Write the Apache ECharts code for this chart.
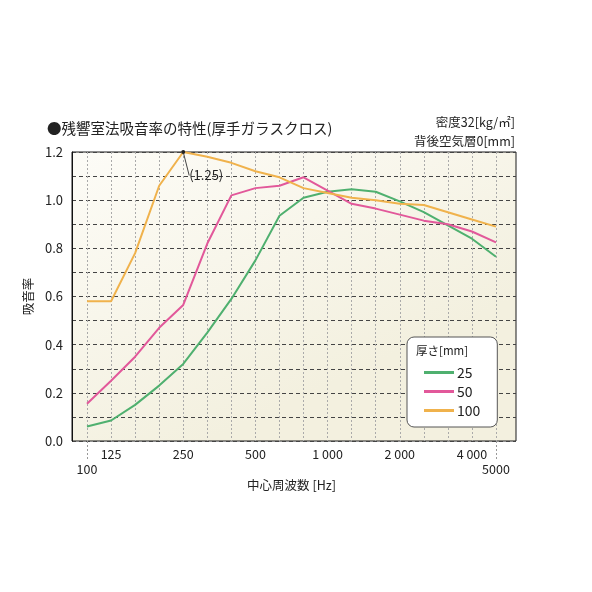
<!DOCTYPE html>
<html>
<head>
<meta charset="utf-8">
<script src="https://cdn.jsdelivr.net/npm/echarts@6/dist/echarts.min.js"></script>
<style>
  html, body { margin: 0; padding: 0; background: #fff; }
  #chart { width: 592px; height: 592px; }
</style>
</head>
<body>
<div id="chart"></div>
<script>
// 1/3オクターブ帯域 中心周波数
const freqs = ['100', '125', '160', '200', '250', '315', '400', '500', '630', '800', '1000', '1250', '1600', '2000', '2500', '3150', '4000', '5000'];
const tickLabels = ['100', '125', '', '', '250', '', '', '500', '', '', '1 000', '', '', '2 000', '', '', '4 000', '5000'];
// 吸音率 (厚さ別)
const abs25 = [0.06, 0.085, 0.15, 0.23, 0.32, 0.45, 0.59, 0.75, 0.935, 1.01, 1.035, 1.045, 1.035, 0.995, 0.95, 0.895, 0.84, 0.765];
const abs50 = [0.155, 0.25, 0.35, 0.47, 0.565, 0.82, 1.02, 1.05, 1.06, 1.095, 1.04, 0.985, 0.965, 0.94, 0.915, 0.9, 0.87, 0.825];
const abs100 = [0.58, 0.58, 0.78, 1.06, 1.2, 1.18, 1.155, 1.12, 1.095, 1.05, 1.03, 1.01, 1.0, 0.985, 0.98, 0.95, 0.92, 0.89];
const seriesNames = ['25', '50', '100'];
const peakIndex = 4;
const peakNote = '(1.25)';

const FONT = '"Noto Sans CJK JP", "Noto Sans", sans-serif';
const colors = ['#4fb06f', '#e2589a', '#f0b24c'];

let chartDom = document.getElementById('chart');
let myChart = echarts.init(chartDom, null, {renderer: 'canvas'});

let lineSeries = (name, values, color, withPeak) => ({
  name: name,
  type: 'line',
  xAxisIndex: 0,
  yAxisIndex: 0,
  showSymbol: withPeak,
  symbol: 'circle',
  symbolSize: (v, p) => (withPeak && p.dataIndex === peakIndex) ? 4 : 0,
  z: 5,
  animation: false,
  lineStyle: {color: color, width: 2},
  itemStyle: {color: color},
  labelLayout: (p) => p.dataIndex === peakIndex ? {dx: 23, dy: 10} : {},
  data: values.map((v, i) => {
    if (withPeak && i === peakIndex) {
      return {
        value: v,
        itemStyle: {color: '#222'},
        label: {
          show: true,
          formatter: peakNote,
          color: '#222',
          fontSize: 13,
          fontFamily: FONT,
          position: 'bottom'
        },
        labelLine: {show: true, lineStyle: {color: '#444', width: 1}}
      };
    }
    return v;
  })
});

let option = {
  backgroundColor: '#fff',
  textStyle: {fontFamily: FONT},
  animation: false,
  title: [
    {
      text: '●残響室法吸音率の特性(厚手ガラスクロス)',
      left: 47, top: 121, padding: 0,
      textStyle: {fontSize: 14.5, fontWeight: 'normal', color: '#222', fontFamily: FONT}
    },
    {
      text: '密度32[kg/㎡]',
      right: 77, top: 116, padding: 0,
      textStyle: {fontSize: 12.5, fontWeight: 'normal', color: '#222', fontFamily: FONT}
    },
    {
      text: '背後空気層0[mm]',
      right: 77, top: 135, padding: 0,
      textStyle: {fontSize: 12.5, fontWeight: 'normal', color: '#222', fontFamily: FONT}
    },
    {
      text: '厚さ[mm]',
      left: 416, top: 345, z: 20, padding: 0,
      textStyle: {fontSize: 11.5, fontWeight: 'normal', color: '#222', fontFamily: FONT}
    }
  ],
  legend: {
    data: seriesNames,
    orient: 'vertical',
    left: 407, top: 337,
    width: 91,
    padding: [28, 17, 9, 17],
    backgroundColor: '#fff',
    borderColor: '#555',
    borderWidth: 1,
    borderRadius: 7,
    itemWidth: 30,
    itemHeight: 3,
    itemGap: 4,
    icon: 'rect',
    z: 10,
    textStyle: {fontSize: 14, color: '#222', fontFamily: FONT, padding: [0, 0, 0, -2], lineHeight: 15}
  },
  grid: [
    {left: 87, right: 96, top: 152, bottom: 151, containLabel: false},
    {
      left: 72, right: 76, top: 152, bottom: 151,
      show: true, z: 0,
      borderColor: '#1a1a1a', borderWidth: 1,
      backgroundColor: {
        type: 'linear', x: 0, y: 0, x2: 0.3, y2: 1,
        colorStops: [
          {offset: 0, color: '#fdfcf7'},
          {offset: 1, color: '#f3f0df'}
        ]
      }
    }
  ],
  xAxis: [
    {
      gridIndex: 0,
      type: 'category',
      boundaryGap: false,
      data: freqs,
      z: 1,
      axisLine: {show: false},
      axisTick: {
        show: true,
        interval: (i) => i === 0 || i === freqs.length - 1,
        length: 20,
        lineStyle: {color: '#999', type: [2, 2], width: 1}
      },
      splitLine: {
        show: true,
        interval: 0,
        lineStyle: {color: '#aaa', type: [2, 2], width: 1}
      },
      axisLabel: {
        interval: 0,
        margin: 6,
        fontSize: 12.5,
        color: '#222',
        lineHeight: 15,
        fontFamily: FONT,
        formatter: (val, i) => (i === 0 || i === freqs.length - 1) ? '\n' + tickLabels[i] : tickLabels[i]
      },
      name: '中心周波数 [Hz]',
      nameLocation: 'middle',
      nameGap: 38,
      nameTextStyle: {fontSize: 12.5, color: '#222', fontFamily: FONT}
    },
    {
      gridIndex: 1,
      type: 'value',
      min: 0, max: 1,
      show: false
    }
  ],
  yAxis: [
    {
      gridIndex: 0,
      type: 'value',
      min: 0, max: 1.2,
      show: false
    },
    {
      gridIndex: 1,
      type: 'value',
      min: 0, max: 1.2,
      interval: 0.1,
      z: 1,
      axisLine: {show: true, lineStyle: {color: '#111', width: 1}},
      axisTick: {show: false},
      splitLine: {show: true, lineStyle: {color: '#444', type: [4, 3], width: 1}},
      axisLabel: {
        margin: 9,
        fontSize: 13,
        color: '#222',
        fontFamily: FONT,
        formatter: (v) => {
          let r = Math.round(v * 10);
          return r % 2 === 0 ? (r / 10).toFixed(1) : '';
        }
      },
      name: '吸音率',
      nameLocation: 'middle',
      nameGap: 32,
      nameRotate: 90,
      nameTextStyle: {fontSize: 12.5, color: '#222', fontFamily: FONT}
    }
  ],
  series: [
    lineSeries(seriesNames[0], abs25, colors[0], false),
    lineSeries(seriesNames[1], abs50, colors[1], false),
    lineSeries(seriesNames[2], abs100, colors[2], true)
  ]
};

myChart.setOption(option);
</script>
</body>
</html>
